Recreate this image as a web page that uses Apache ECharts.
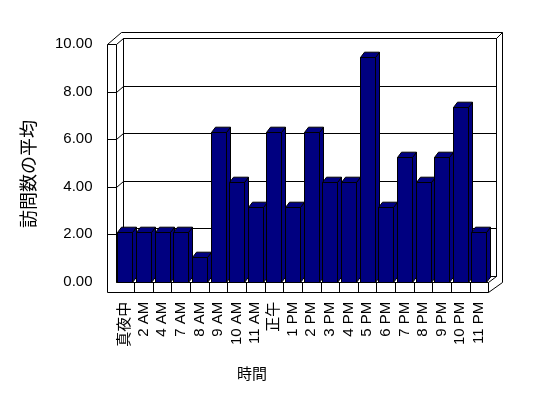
<!DOCTYPE html>
<html><head><meta charset="utf-8">
<script src="https://cdn.jsdelivr.net/npm/echarts@6/dist/echarts.min.js"></script>
<style>html,body{margin:0;padding:0;background:#fff}#c{width:548px;height:398px}</style>
</head><body><div id="c"></div>
<script>
const categories = ['真夜中','2 AM','4 AM','7 AM','8 AM','9 AM','10 AM','11 AM','正午','1 PM','2 PM','3 PM','4 PM','5 PM','6 PM','7 PM','8 PM','9 PM','10 PM','11 PM'];
const visits = [2,2,2,2,1,6,4,3,6,3,6,4,4,9,3,5,4,5,7,2];
const yTicks = [0,2,4,6,8,10];
const yAxisTitle = '訪問数の平均';
const xAxisTitle = '時間';

const FONT = '"Liberation Sans", "Noto Sans CJK JP", sans-serif';
const chart = echarts.init(document.getElementById('c'), null, {renderer: 'canvas'});

function px(v) { return Math.round(v) + 0.5; }

function frameRender(params, api) {
  const n = categories.length;
  const ymax = yTicks[yTicks.length - 1];
  const [xl, yb] = api.coord([0, 0]);
  const [xr, yt] = api.coord([n, ymax]);
  const DX = 7.5, DY = -5.7, WALL = 8.5, FLOOR = 10, OX = 13.7, OY = -11.7;
  const ch = [];
  const line = (pts) => ch.push({type: 'polyline', shape: {points: pts.map(p => [px(p[0]), px(p[1])])},
    style: {stroke: '#000', lineWidth: 1, fill: null}, silent: true});
  // back wall inner rectangle
  line([[xl + DX, yt + DY], [xr + DX, yt + DY], [xr + DX, yb + DY], [xl + DX, yb + DY], [xl + DX, yt + DY]]);
  // gridlines on back and left wall
  yTicks.forEach(v => {
    const y = api.coord([0, v])[1];
    if (v !== 0) line([[xl - WALL, y], [xl, y]]);
    line([[xl, y], [xl + DX, y + DY]]);
    line([[xl + DX, y + DY], [xr + DX, y + DY]]);
  });
  // left wall front face
  line([[xl - WALL, yt], [xl - WALL, yb + FLOOR]]);
  line([[xl, yt], [xl, yb]]);
  // left wall top & outer top edge
  line([[xl - WALL, yt], [xl + 5.2, yt + OY], [xr + OX, yt + OY], [xr + OX, yb]]);
  line([[xr + DX, yt + DY], [xr + OX, yt + OY]]);
  // floor front face
  line([[xl - WALL, yb + FLOOR], [xr, yb + FLOOR], [xr, yb], [xl, yb]]);
  line([[xr, yb + FLOOR], [xr + OX, yb]]);
  line([[xr, yb], [xr + DX, yb + DY]]);
  for (let i = 1; i < n; i++) {
    const x = api.coord([i, 0])[0];
    line([[x, yb], [x, yb + FLOOR]]);
  }
  return {type: 'group', children: ch};
}

function barRender(params, api) {
  const idx = api.value(0), v = api.value(1);
  const [cx, y0] = api.coord([idx, 0]);
  const y1 = api.coord([idx, v])[1];
  const bw = api.size([1, 0])[0] * 0.805;
  const x0 = Math.round(cx - bw / 2) + 0.5, x1 = Math.round(cx + bw / 2) + 0.5;
  const t = Math.round(y1) + 0.5, b = Math.round(y0) + 0.5;
  const dx = 4, dy = -5.3;
  const st = {fill: '#000080', stroke: '#000', lineWidth: 1};
  return {type: 'group', children: [
    {type: 'polygon', shape: {points: [[x1, t], [x1 + dx, t + dy], [x1 + dx, b + dy], [x1, b]]}, style: st},
    {type: 'polygon', shape: {points: [[x0, t], [x0 + dx, t + dy], [x1 + dx, t + dy], [x1, t]]}, style: st},
    {type: 'rect', shape: {x: x0, y: t, width: x1 - x0, height: b - t}, style: st}
  ]};
}

chart.setOption({
  backgroundColor: '#fff',
  animation: false,
  grid: [
    {left: 115.5, width: 372.8, top: 44, height: 237.7, containLabel: false},
    {left: 115.5, width: 372.8, top: 31.7, height: 250, containLabel: false}
  ],
  xAxis: [
    {gridIndex: 0, type: 'value', min: 0, max: categories.length, show: false},
    {gridIndex: 1, type: 'category', data: categories,
      axisLine: {show: false}, axisTick: {show: false}, splitLine: {show: false},
      axisLabel: {interval: 0, rotate: 90, margin: 20, fontSize: 15, color: '#000', fontFamily: FONT}}
  ],
  yAxis: [
    {gridIndex: 0, type: 'value', min: 0, max: 10, interval: 2,
      axisLine: {show: false}, axisTick: {show: false}, splitLine: {show: false},
      axisLabel: {formatter: v => v.toFixed(2), margin: 23, fontSize: 15, color: '#000', fontFamily: FONT}},
    {gridIndex: 1, type: 'value', min: 0, max: 10, show: false}
  ],
  graphic: [
    {type: 'text', x: 28, y: 174, rotation: Math.PI / 2,
      style: {text: yAxisTitle, fill: '#000', font: '18px "Noto Sans CJK JP", sans-serif', align: 'center', verticalAlign: 'middle'}},
    {type: 'text', x: 252, y: 373,
      style: {text: xAxisTitle, fill: '#000', font: '15px "Noto Sans CJK JP", sans-serif', align: 'center', verticalAlign: 'middle'}}
  ],
  series: [
    {type: 'custom', xAxisIndex: 0, yAxisIndex: 0, renderItem: frameRender, data: [[0, 0]], silent: true, clip: false, z: 1},
    {type: 'custom', xAxisIndex: 1, yAxisIndex: 1, renderItem: barRender,
      data: visits.map((v, i) => [i, v]), encode: {x: 0, y: 1}, clip: false, z: 2}
  ]
});
</script>
</body></html>
